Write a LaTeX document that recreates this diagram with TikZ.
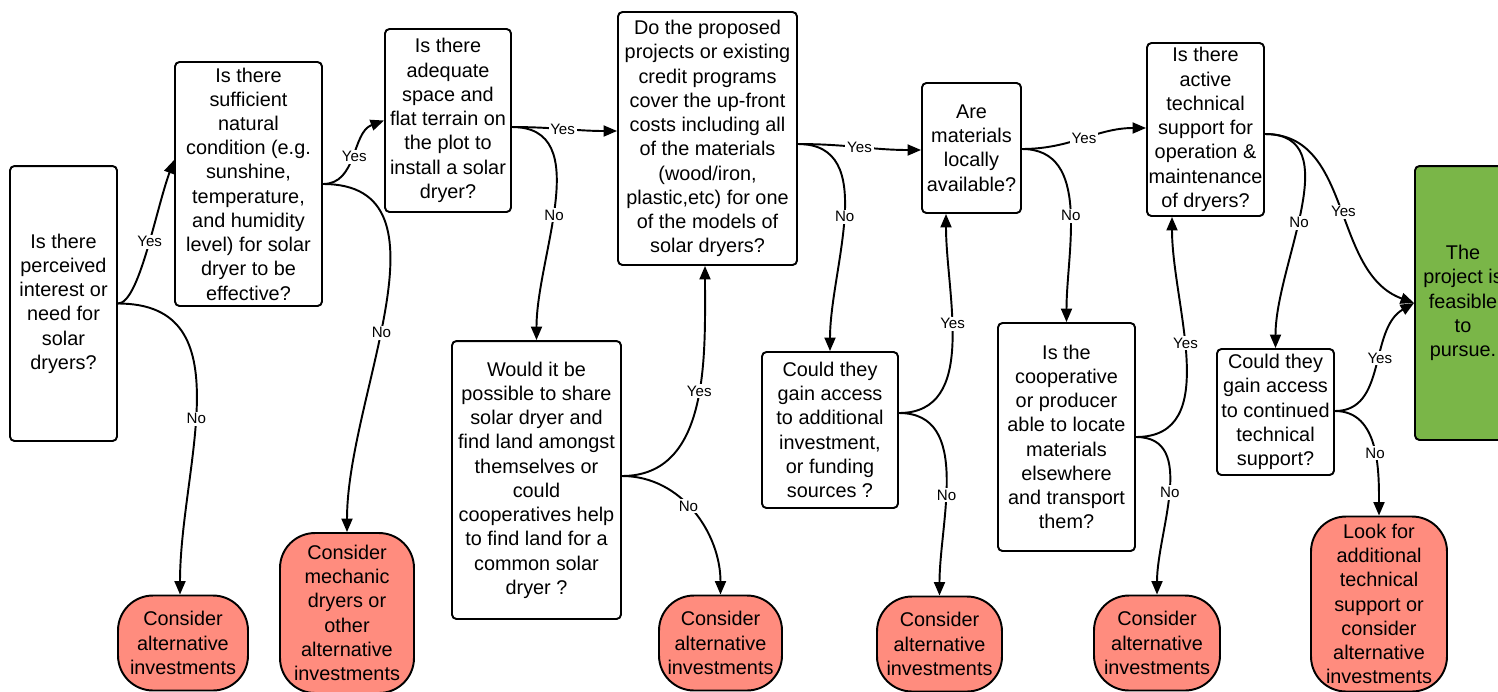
\documentclass[tikz,border=0pt]{standalone}
\usepackage{fontspec}
\setmainfont{Liberation Sans}
\usetikzlibrary{arrows.meta}
\definecolor{stopred}{HTML}{FF8C7E}
\definecolor{okgreen}{HTML}{7AB648}
\newcommand{\qfont}{\fontsize{11.3}{13.8}\selectfont}
\newcommand{\lblfont}{\fontsize{8.6}{9.5}\selectfont}
\tikzset{
  qbox/.style={draw, line width=1.1pt, rounded corners=2.5pt, fill=white, align=center, inner sep=0pt, font=\qfont},
  stopbox/.style={draw, line width=1.1pt, rounded corners=0.7cm, fill=stopred, align=center, inner sep=0pt, font=\qfont},
  okbox/.style={draw, line width=1.1pt, rounded corners=2.5pt, fill=okgreen, align=center, inner sep=0pt, font=\qfont},
  flow/.style={->, line width=1.1pt},
  lbl/.style={fill=white, inner sep=1pt, font=\lblfont}
}
\begin{document}
\begin{tikzpicture}[x=0.02cm, y=-0.02cm, line join=round, >={Triangle[length=0.27cm,width=0.22cm]}]
\useasboundingbox (0,0) rectangle (1498,691);
\clip (0,0) rectangle (1498,691);
% questions
\node[qbox, minimum width=2.14cm, minimum height=5.5cm] (q1) at (63.5,303.5) {Is there\\perceived\\interest or\\need for\\solar\\dryers?};
\node[qbox, minimum width=2.94cm, minimum height=4.88cm] (q2) at (248.5,184) {Is there\\sufficient\\natural\\condition (e.g.\\sunshine,\\temperature,\\and humidity\\level) for solar\\dryer to be\\effective?};
\node[qbox, minimum width=2.52cm, minimum height=3.66cm] (q3) at (448,120.5) {Is there\\adequate\\space and\\flat terrain on\\the plot to\\install a solar\\dryer?};
\node[qbox, minimum width=3.58cm, minimum height=5.06cm] (q4) at (707.5,138.5) {Do the proposed\\projects or existing\\credit programs\\cover the up-front\\costs including all\\of the materials\\(wood/iron,\\plastic,etc) for one\\of the models of\\solar dryers?};
\node[qbox, minimum width=1.98cm, minimum height=2.6cm] (q5) at (971.5,148) {Are\\materials\\locally\\available?};
\node[qbox, minimum width=2.34cm, minimum height=3.46cm] (q6) at (1205.5,129.5) {Is there\\active\\technical\\support for\\operation \&\\maintenance\\of dryers?};
\node[okbox, minimum width=1.92cm, minimum height=5.48cm] (ok) at (1463,303) {The\\project is\\feasible\\to\\pursue.};
% second row
\node[qbox, minimum width=3.38cm, minimum height=5.56cm] (q3no) at (536.5,480) {Would it be\\possible to share\\solar dryer and\\find land amongst\\themselves or\\could\\cooperatives help\\to find land for a\\common solar\\dryer ?};
\node[qbox, minimum width=2.72cm, minimum height=3.12cm] (q4no) at (830,430) {Could they\\gain access\\to additional\\investment,\\or funding\\sources ?};
\node[qbox, minimum width=2.74cm, minimum height=4.56cm] (q5no) at (1066.5,437) {Is the\\cooperative\\or producer\\able to locate\\materials\\elsewhere\\and transport\\them?};
\node[qbox, minimum width=2.34cm, minimum height=2.52cm] (q6no) at (1275.5,412) {Could they\\gain access\\to continued\\technical\\support?};
% stops
\node[stopbox, minimum width=2.6cm, minimum height=1.9cm] (r1) at (183,643) {Consider\\alternative\\investments};
\node[stopbox, minimum width=2.68cm, minimum height=3.2cm] (r2) at (347,613) {Consider\\mechanic\\dryers or\\other\\alternative\\investments};
\node[stopbox, minimum width=2.46cm, minimum height=1.9cm] (r3) at (720.5,643) {Consider\\alternative\\investments};
\node[stopbox, minimum width=2.5cm, minimum height=1.9cm] (r4) at (939.5,644) {Consider\\alternative\\investments};
\node[stopbox, minimum width=2.52cm, minimum height=1.9cm] (r5) at (1157,643) {Consider\\alternative\\investments};
\node[stopbox, minimum width=2.72cm, minimum height=3.5cm] (r6) at (1379,604) {Look for\\additional\\technical\\support or\\consider\\alternative\\investments};
% connectors
\draw[flow] (q1.east) to[out=0,in=250,out looseness=0.35,in looseness=0.9] node[lbl,pos=0.55]{Yes} (q2.west |- 0,160);
\draw[flow] (q1.east) to[out=0,in=90,looseness=1.1] node[lbl,pos=0.55]{No} (r1.north -| 180,0);
\draw[flow] (q2.east) to[out=0,in=200] node[lbl,pos=0.5]{Yes} (q3.west);
\draw[flow] (q2.east) to[out=0,in=90] node[lbl,pos=0.56]{No} (r2.north);
\draw[flow] (q3.east |- 0,127) to[out=0,in=180] node[lbl,pos=0.48]{Yes} (q4.west |- 0,131);
\draw[flow] (q3.east |- 0,127) to[out=0,in=90] node[lbl,pos=0.55]{No} (q3no.north);
\draw[flow] (q3no.east |- 0,476) to[out=0,in=-90] node[lbl,pos=0.55]{Yes} (q4.south -| 705,0);
\draw[flow] (q3no.east |- 0,476) to[out=0,in=90] node[lbl,pos=0.45]{No} (r3.north);
\draw[flow] (q4.east |- 0,144) to[out=0,in=180] node[lbl,pos=0.5]{Yes} (q5.west |- 0,150);
\draw[flow] (q4.east |- 0,144) to[out=0,in=90] node[lbl,pos=0.5]{No} (q4no.north);
\draw[flow] (q4no.east |- 0,413) to[out=0,in=-90] node[lbl,pos=0.58]{Yes} (q5.south -| 946,0);
\draw[flow] (q4no.east |- 0,413) to[out=0,in=90] node[lbl,pos=0.58]{No} (r4.north);
\draw[flow] (q5.east |- 0,149) to[out=0,in=180] node[lbl,pos=0.5]{Yes} (q6.west |- 0,128);
\draw[flow] (q5.east |- 0,149) to[out=0,in=90] node[lbl,pos=0.53]{No} (q5no.north);
\draw[flow] (q5no.east) to[out=0,in=-90] node[lbl,pos=0.56]{Yes} (q6.south -| 1172,0);
\draw[flow] (q5no.east) to[out=0,in=90] node[lbl,pos=0.5]{No} (r5.north);
\draw[flow] (q6.east |- 0,134) to[out=0,in=160] node[lbl,pos=0.52]{Yes} (ok.west);
\draw[flow] (q6.east |- 0,134) to[out=0,in=90] node[lbl,pos=0.55]{No} (q6no.north);
\draw[flow] (q6no.east |- 0,411) to[out=0,in=210] node[lbl,pos=0.56]{Yes} (ok.west);
\draw[flow] (q6no.east |- 0,411) to[out=0,in=90] node[lbl,pos=0.55]{No} (r6.north);
\end{tikzpicture}
\end{document}
